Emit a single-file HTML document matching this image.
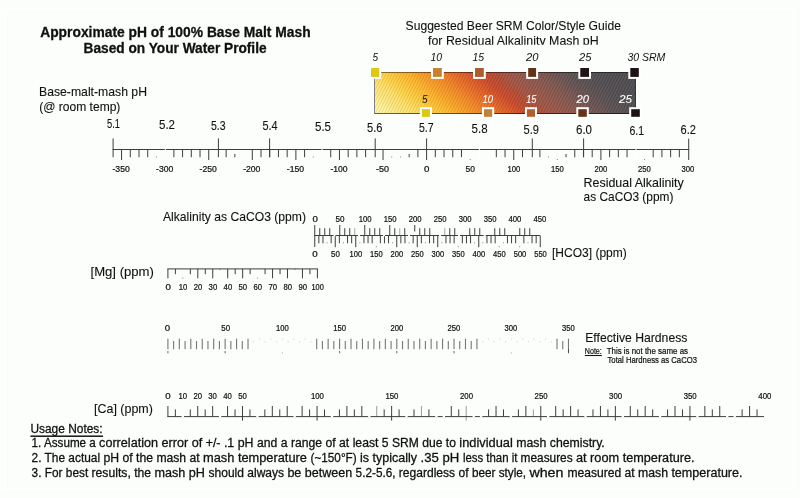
<!DOCTYPE html>
<html><head><meta charset="utf-8"><title>Approximate pH of 100% Base Malt Mash</title>
<style>
html,body{margin:0;padding:0;background:#fcfefb;}
svg{display:block;font-family:"Liberation Sans",sans-serif;}
svg{fill:#101010;}
text{stroke:#101010;stroke-width:0.1px;}
text.n{stroke-width:0.28px;}
text.i{stroke-width:0;}
text.s{stroke-width:0.22px;}
text.w{stroke:#fff;}
</style></head>
<body>
<svg width="800" height="498" viewBox="0 0 800 498">
<defs>
<linearGradient id="g1" gradientUnits="userSpaceOnUse" x1="374" y1="114" x2="503.05" y2="-39.7"><stop offset="0.000" stop-color="#fff6a8"/><stop offset="0.050" stop-color="#fff29a"/><stop offset="0.090" stop-color="#ffe880"/><stop offset="0.140" stop-color="#ffe068"/><stop offset="0.164" stop-color="#ffd850"/><stop offset="0.199" stop-color="#ffcc40"/><stop offset="0.229" stop-color="#ffc034"/><stop offset="0.259" stop-color="#ffb42c"/><stop offset="0.289" stop-color="#fca426"/><stop offset="0.349" stop-color="#f48a26"/><stop offset="0.404" stop-color="#ea6e26"/><stop offset="0.458" stop-color="#d85628"/><stop offset="0.488" stop-color="#cc4a2a"/><stop offset="0.528" stop-color="#b84c32"/><stop offset="0.556" stop-color="#aa523e"/><stop offset="0.568" stop-color="#a45646"/><stop offset="0.618" stop-color="#96584c"/><stop offset="0.663" stop-color="#885850"/><stop offset="0.698" stop-color="#7c5852"/><stop offset="0.737" stop-color="#6c5454"/><stop offset="0.777" stop-color="#605253"/><stop offset="0.822" stop-color="#575052"/><stop offset="0.897" stop-color="#504e52"/><stop offset="1.000" stop-color="#4a4c52"/></linearGradient>
<pattern id="h1" patternUnits="userSpaceOnUse" width="3" height="6"><path d="M-1.5,9 L3,0 M-1.5,3 L1.5,-3 M1.5,9 L4.5,3" stroke="#000" stroke-opacity="0.10" stroke-width="1" fill="none"/><path d="M0,9 L4.5,0 M-3,9 L1.5,0" stroke="#fff" stroke-opacity="0.07" stroke-width="1" fill="none"/></pattern>
<clipPath id="c1"><rect x="400" y="30" width="260" height="14.7"/></clipPath>
</defs>
<rect width="800" height="498" fill="#fcfefb"/>
<rect x="5" y="9" width="789" height="480" fill="none" stroke="#fff" stroke-width="2"/>
<text x="40.2" y="36.6" font-size="13.8" textLength="270.4" lengthAdjust="spacingAndGlyphs" font-weight="bold" class="n">Approximate pH of 100% Base Malt Mash</text>
<text x="83.6" y="52.6" font-size="13.8" textLength="183.0" lengthAdjust="spacingAndGlyphs" font-weight="bold" class="n">Based on Your Water Profile</text>
<text x="405.6" y="30.0" font-size="12.9" textLength="215.3" lengthAdjust="spacingAndGlyphs">Suggested Beer SRM Color/Style Guide</text>
<g clip-path="url(#c1)">
<text x="428.0" y="45.0" font-size="12.9" textLength="170.6" lengthAdjust="spacingAndGlyphs">for Residual Alkalinity Mash pH</text>
</g>
<text x="39.0" y="95.8" font-size="12.4" textLength="108.0" lengthAdjust="spacingAndGlyphs">Base-malt-mash pH</text>
<text x="39.2" y="110.6" font-size="12.4" textLength="81.2" lengthAdjust="spacingAndGlyphs">(@ room temp)</text>
<rect x="374" y="72" width="262" height="42" fill="url(#g1)"/>
<rect x="375" y="73" width="260" height="40" fill="url(#h1)"/>
<rect x="374" y="72" width="262" height="1" fill="#000" opacity="0.48"/>
<rect x="374" y="113" width="262" height="1" fill="#000" opacity="0.6"/>
<rect x="374" y="72" width="1" height="42" fill="#808080"/>
<rect x="635" y="72" width="1" height="42" fill="#2c2424" opacity="0.6"/>
<rect x="369.0" y="66.0" width="12.2" height="12.9" fill="#fff"/>
<rect x="371.0" y="68.0" width="8.2" height="8.9" fill="#ddc914"/>
<rect x="431.0" y="66.0" width="12.8" height="12.9" fill="#fff"/>
<rect x="433.0" y="68.0" width="8.8" height="8.9" fill="#c4832f"/>
<rect x="473.0" y="66.0" width="12.8" height="12.9" fill="#fff"/>
<rect x="475.0" y="68.0" width="8.8" height="8.9" fill="#ae5b30"/>
<rect x="526.2" y="66.0" width="11.9" height="12.9" fill="#fff"/>
<rect x="528.2" y="68.0" width="7.9" height="8.9" fill="#643217"/>
<rect x="578.3" y="66.0" width="12.7" height="12.9" fill="#fff"/>
<rect x="580.3" y="68.0" width="8.7" height="8.9" fill="#1f1416"/>
<rect x="628.3" y="66.0" width="12.5" height="12.9" fill="#fff"/>
<rect x="630.3" y="68.0" width="8.5" height="8.9" fill="#1c1214"/>
<rect x="419.9" y="107.2" width="12.1" height="11.6" fill="#fff"/>
<rect x="421.9" y="109.2" width="8.1" height="7.6" fill="#d9c90f"/>
<rect x="482.0" y="107.2" width="12.2" height="11.6" fill="#fff"/>
<rect x="484.0" y="109.2" width="8.2" height="7.6" fill="#c0813a"/>
<rect x="525.0" y="107.2" width="12.0" height="11.6" fill="#fff"/>
<rect x="527.0" y="109.2" width="8.0" height="7.6" fill="#b0602f"/>
<rect x="576.3" y="107.2" width="12.5" height="11.6" fill="#fff"/>
<rect x="578.3" y="109.2" width="8.5" height="7.6" fill="#673218"/>
<rect x="629.2" y="107.2" width="12.6" height="11.6" fill="#fff"/>
<rect x="631.2" y="109.2" width="8.6" height="7.6" fill="#1c1215"/>
<text x="372.4" y="61.0" font-size="11.6" textLength="5.6" lengthAdjust="spacingAndGlyphs" font-style="italic" class="i">5</text>
<text x="430.4" y="61.0" font-size="11.6" textLength="11.6" lengthAdjust="spacingAndGlyphs" font-style="italic" class="i">10</text>
<text x="472.4" y="61.0" font-size="11.6" textLength="11.6" lengthAdjust="spacingAndGlyphs" font-style="italic" class="i">15</text>
<text x="526.0" y="61.0" font-size="11.6" textLength="12.4" lengthAdjust="spacingAndGlyphs" font-style="italic" class="i">20</text>
<text x="579.0" y="61.0" font-size="11.6" textLength="12.4" lengthAdjust="spacingAndGlyphs" font-style="italic" class="i">25</text>
<text x="627.4" y="61.0" font-size="11.6" textLength="38.0" lengthAdjust="spacingAndGlyphs" font-style="italic" class="i">30 SRM</text>
<text x="421.9" y="102.7" font-size="11.6" textLength="5.6" lengthAdjust="spacingAndGlyphs" font-style="italic" class="i">5</text>
<text x="482.5" y="102.7" font-size="11.6" textLength="10.5" lengthAdjust="spacingAndGlyphs" font-style="italic" fill="#fff" class="w">10</text>
<text x="526.2" y="102.7" font-size="11.6" textLength="10.1" lengthAdjust="spacingAndGlyphs" font-style="italic" fill="#fff" class="w">15</text>
<text x="576.5" y="102.7" font-size="11.6" textLength="12.5" lengthAdjust="spacingAndGlyphs" font-style="italic" fill="#fff" class="w">20</text>
<text x="619.0" y="102.7" font-size="11.6" textLength="13.0" lengthAdjust="spacingAndGlyphs" font-style="italic" fill="#fff" class="w">25</text>
<g fill="#3e3e3e">
<rect x="112.6" y="149.00" width="576.6" height="1"/>
<rect x="112.60" y="138.4" width="1" height="18.8"/>
<rect x="217.90" y="138.4" width="1" height="18.8"/>
<rect x="269.10" y="138.4" width="1" height="18.8"/>
<rect x="374.70" y="138.4" width="1" height="18.8"/>
<rect x="426.10" y="138.4" width="1" height="21.6"/>
<rect x="531.80" y="138.4" width="1" height="18.8"/>
<rect x="583.10" y="138.4" width="1" height="18.8"/>
<rect x="688.20" y="138.6" width="1" height="21.4"/>
<rect x="121.07" y="149.5" width="1" height="10.5"/>
<rect x="129.79" y="149.5" width="1" height="7.7"/>
<rect x="138.50" y="149.5" width="1" height="7.7"/>
<rect x="147.22" y="149.5" width="1" height="7.7"/>
<rect x="173.37" y="149.5" width="1" height="7.7"/>
<rect x="182.08" y="149.5" width="1" height="7.7"/>
<rect x="190.80" y="149.5" width="1" height="7.7"/>
<rect x="199.51" y="149.5" width="1" height="7.7"/>
<rect x="208.23" y="149.5" width="1" height="10.5"/>
<rect x="225.66" y="149.5" width="1" height="7.7"/>
<rect x="234.37" y="154.0" width="1" height="3.2"/>
<rect x="251.80" y="149.5" width="1" height="10.5"/>
<rect x="260.51" y="149.5" width="1" height="7.7"/>
<rect x="269.23" y="149.5" width="1" height="7.7"/>
<rect x="277.95" y="149.5" width="1" height="7.7"/>
<rect x="286.66" y="149.5" width="1" height="7.7"/>
<rect x="295.38" y="149.5" width="1" height="10.5"/>
<rect x="304.09" y="149.5" width="1" height="7.7"/>
<rect x="330.24" y="149.5" width="1" height="7.7"/>
<rect x="338.95" y="149.5" width="1" height="10.5"/>
<rect x="347.67" y="149.5" width="1" height="7.7"/>
<rect x="356.38" y="149.5" width="1" height="7.7"/>
<rect x="365.10" y="149.5" width="1" height="7.7"/>
<rect x="382.53" y="149.5" width="1" height="10.5"/>
<rect x="408.67" y="154.0" width="1" height="3.2"/>
<rect x="417.39" y="149.5" width="1" height="7.7"/>
<rect x="434.81" y="149.5" width="1" height="7.7"/>
<rect x="443.53" y="149.5" width="1" height="7.7"/>
<rect x="452.25" y="149.5" width="1" height="7.7"/>
<rect x="460.96" y="149.5" width="1" height="7.7"/>
<rect x="495.82" y="149.5" width="1" height="7.7"/>
<rect x="504.54" y="149.5" width="1" height="7.7"/>
<rect x="513.25" y="149.5" width="1" height="10.5"/>
<rect x="521.97" y="149.5" width="1" height="7.7"/>
<rect x="539.39" y="149.5" width="1" height="7.7"/>
<rect x="565.54" y="154.0" width="1" height="3.2"/>
<rect x="574.25" y="149.5" width="1" height="7.7"/>
<rect x="582.97" y="149.5" width="1" height="7.7"/>
<rect x="591.69" y="149.5" width="1" height="7.7"/>
<rect x="600.40" y="149.5" width="1" height="10.5"/>
<rect x="609.12" y="149.5" width="1" height="7.7"/>
<rect x="617.83" y="149.5" width="1" height="7.7"/>
<rect x="626.55" y="149.5" width="1" height="7.7"/>
<rect x="652.69" y="149.5" width="1" height="7.7"/>
<rect x="661.40" y="149.5" width="1" height="7.7"/>
<rect x="670.12" y="149.5" width="1" height="7.7"/>
<rect x="678.84" y="149.5" width="1" height="7.7"/>
<rect x="155.9" y="156.5" width="1" height="1" opacity="0.6"/>
<rect x="312.8" y="156.5" width="1" height="1" opacity="0.6"/>
<rect x="391.2" y="156.5" width="1" height="1" opacity="0.6"/>
<rect x="400.0" y="156.5" width="1" height="1" opacity="0.6"/>
<rect x="469.7" y="159.0" width="1" height="1" opacity="0.6"/>
<rect x="548.1" y="156.5" width="1" height="1" opacity="0.6"/>
<rect x="556.8" y="159.0" width="1" height="1" opacity="0.6"/>
<rect x="644.0" y="159.0" width="1" height="1" opacity="0.6"/>
</g>
<rect x="164.80" y="138.4" width="1" height="21.6" fill="#fff"/>
<rect x="321.50" y="138.4" width="1" height="21.6" fill="#fff"/>
<rect x="478.90" y="138.4" width="1" height="21.6" fill="#fff"/>
<rect x="635.50" y="138.4" width="1" height="21.6" fill="#fff"/>
<text x="107.0" y="127.6" font-size="12.8" textLength="13.0" lengthAdjust="spacingAndGlyphs">5.1</text>
<text x="159.0" y="128.6" font-size="12.8" textLength="16.0" lengthAdjust="spacingAndGlyphs">5.2</text>
<text x="211.0" y="129.6" font-size="12.8" textLength="14.6" lengthAdjust="spacingAndGlyphs">5.3</text>
<text x="262.4" y="130.4" font-size="12.8" textLength="15.2" lengthAdjust="spacingAndGlyphs">5.4</text>
<text x="315.0" y="130.8" font-size="12.8" textLength="16.0" lengthAdjust="spacingAndGlyphs">5.5</text>
<text x="367.0" y="131.6" font-size="12.8" textLength="15.4" lengthAdjust="spacingAndGlyphs">5.6</text>
<text x="419.0" y="132.0" font-size="12.8" textLength="14.6" lengthAdjust="spacingAndGlyphs">5.7</text>
<text x="471.6" y="132.7" font-size="12.8" textLength="16.0" lengthAdjust="spacingAndGlyphs">5.8</text>
<text x="523.6" y="133.6" font-size="12.8" textLength="15.4" lengthAdjust="spacingAndGlyphs">5.9</text>
<text x="576.0" y="134.0" font-size="12.8" textLength="16.0" lengthAdjust="spacingAndGlyphs">6.0</text>
<text x="629.4" y="135.0" font-size="12.8" textLength="14.6" lengthAdjust="spacingAndGlyphs">6.1</text>
<text x="680.6" y="134.0" font-size="12.8" textLength="15.4" lengthAdjust="spacingAndGlyphs">6.2</text>
<text x="112.5" y="172.2" font-size="8.6" textLength="17.2" lengthAdjust="spacingAndGlyphs" class="s">-350</text>
<text x="156.1" y="172.2" font-size="8.6" textLength="17.2" lengthAdjust="spacingAndGlyphs" class="s">-300</text>
<text x="199.6" y="172.2" font-size="8.6" textLength="17.2" lengthAdjust="spacingAndGlyphs" class="s">-250</text>
<text x="243.2" y="172.2" font-size="8.6" textLength="17.2" lengthAdjust="spacingAndGlyphs" class="s">-200</text>
<text x="286.8" y="172.2" font-size="8.6" textLength="17.2" lengthAdjust="spacingAndGlyphs" class="s">-150</text>
<text x="330.4" y="172.2" font-size="8.6" textLength="17.2" lengthAdjust="spacingAndGlyphs" class="s">-100</text>
<text x="376.0" y="172.2" font-size="8.6" textLength="13.0" lengthAdjust="spacingAndGlyphs" class="s">-50</text>
<text x="423.9" y="172.2" font-size="8.6" textLength="5.4" lengthAdjust="spacingAndGlyphs" class="s">0</text>
<text x="465.5" y="172.2" font-size="8.6" textLength="9.4" lengthAdjust="spacingAndGlyphs" class="s">50</text>
<text x="507.4" y="172.2" font-size="8.6" textLength="12.8" lengthAdjust="spacingAndGlyphs" class="s">100</text>
<text x="550.9" y="172.2" font-size="8.6" textLength="12.8" lengthAdjust="spacingAndGlyphs" class="s">150</text>
<text x="594.5" y="172.2" font-size="8.6" textLength="12.8" lengthAdjust="spacingAndGlyphs" class="s">200</text>
<text x="638.1" y="172.2" font-size="8.6" textLength="12.8" lengthAdjust="spacingAndGlyphs" class="s">250</text>
<text x="681.6" y="172.2" font-size="8.6" textLength="12.8" lengthAdjust="spacingAndGlyphs" class="s">300</text>
<text x="583.5" y="186.7" font-size="12.4" textLength="100.3" lengthAdjust="spacingAndGlyphs">Residual Alkalinity</text>
<text x="583.6" y="201.4" font-size="12.4" textLength="89.8" lengthAdjust="spacingAndGlyphs">as CaCO3 (ppm)</text>
<text x="163.0" y="221.3" font-size="12.6" textLength="143.0" lengthAdjust="spacingAndGlyphs">Alkalinity as CaCO3 (ppm)</text>
<g fill="#3e3e3e">
<rect x="314.2" y="235.00" width="225.8" height="1"/>
<rect x="314.25" y="225.0" width="1" height="22.0"/>
<rect x="319.25" y="228.2" width="1" height="7.3"/>
<rect x="324.25" y="228.2" width="1" height="7.3"/>
<rect x="329.25" y="228.2" width="1" height="7.3"/>
<rect x="339.25" y="225.0" width="1" height="10.5"/>
<rect x="344.25" y="228.2" width="1" height="7.3"/>
<rect x="349.25" y="228.2" width="1" height="7.3"/>
<rect x="354.25" y="228.2" width="1" height="7.3" opacity="0.45"/>
<rect x="364.25" y="225.0" width="1" height="10.5"/>
<rect x="369.25" y="228.2" width="1" height="7.3"/>
<rect x="374.25" y="228.2" width="1" height="7.3"/>
<rect x="379.25" y="228.2" width="1" height="7.3"/>
<rect x="389.25" y="225.0" width="1" height="10.5"/>
<rect x="394.25" y="228.2" width="1" height="7.3"/>
<rect x="399.25" y="228.2" width="1" height="7.3" opacity="0.45"/>
<rect x="404.25" y="228.2" width="1" height="7.3"/>
<rect x="414.25" y="225.0" width="1" height="6.5"/>
<rect x="419.25" y="228.2" width="1" height="7.3"/>
<rect x="424.25" y="228.2" width="1" height="7.3"/>
<rect x="429.25" y="228.2" width="1" height="7.3"/>
<rect x="444.25" y="228.2" width="1" height="7.3" opacity="0.45"/>
<rect x="449.25" y="228.2" width="1" height="7.3"/>
<rect x="454.25" y="228.2" width="1" height="7.3"/>
<rect x="469.25" y="228.2" width="1" height="7.3"/>
<rect x="474.25" y="228.2" width="1" height="7.3"/>
<rect x="479.25" y="228.2" width="1" height="7.3"/>
<rect x="494.25" y="228.2" width="1" height="7.3"/>
<rect x="499.25" y="228.2" width="1" height="7.3"/>
<rect x="504.25" y="228.2" width="1" height="7.3"/>
<rect x="519.25" y="228.2" width="1" height="7.3"/>
<rect x="524.25" y="228.2" width="1" height="7.3"/>
<rect x="529.25" y="228.2" width="1" height="7.3"/>
<rect x="318.35" y="235.5" width="1" height="7.8"/>
<rect x="322.45" y="235.5" width="1" height="7.8"/>
<rect x="330.65" y="235.5" width="1" height="7.8"/>
<rect x="334.75" y="235.5" width="1" height="11.7"/>
<rect x="338.85" y="235.5" width="1" height="7.8"/>
<rect x="347.05" y="235.5" width="1" height="7.8"/>
<rect x="351.15" y="235.5" width="1" height="7.8"/>
<rect x="355.25" y="235.5" width="1" height="11.7"/>
<rect x="363.45" y="235.5" width="1" height="7.8"/>
<rect x="367.55" y="235.5" width="1" height="7.8"/>
<rect x="371.65" y="235.5" width="1" height="7.8"/>
<rect x="379.85" y="235.5" width="1" height="7.8"/>
<rect x="383.95" y="235.5" width="1" height="7.8"/>
<rect x="388.05" y="235.5" width="1" height="7.8"/>
<rect x="396.25" y="235.5" width="1" height="11.7"/>
<rect x="400.35" y="235.5" width="1" height="7.8"/>
<rect x="404.45" y="235.5" width="1" height="7.8"/>
<rect x="412.65" y="235.5" width="1" height="7.8"/>
<rect x="416.75" y="235.5" width="1" height="11.7"/>
<rect x="420.85" y="235.5" width="1" height="7.8"/>
<rect x="429.05" y="235.5" width="1" height="7.8"/>
<rect x="433.15" y="235.5" width="1" height="7.8"/>
<rect x="437.25" y="235.5" width="1" height="11.7"/>
<rect x="445.45" y="235.5" width="1" height="7.8"/>
<rect x="449.55" y="235.5" width="1" height="7.8"/>
<rect x="453.65" y="235.5" width="1" height="7.8"/>
<rect x="461.85" y="235.5" width="1" height="7.8"/>
<rect x="465.95" y="235.5" width="1" height="7.8"/>
<rect x="470.05" y="235.5" width="1" height="7.8"/>
<rect x="478.25" y="235.5" width="1" height="11.7"/>
<rect x="486.45" y="235.5" width="1" height="7.8"/>
<rect x="490.55" y="235.5" width="1" height="7.8"/>
<rect x="494.65" y="235.5" width="1" height="7.8"/>
<rect x="506.95" y="235.5" width="1" height="7.8"/>
<rect x="511.05" y="235.5" width="1" height="7.8"/>
<rect x="515.15" y="235.5" width="1" height="7.8"/>
<rect x="523.35" y="235.5" width="1" height="7.8"/>
<rect x="531.55" y="235.5" width="1" height="7.8"/>
<rect x="535.65" y="235.5" width="1" height="7.8"/>
<rect x="539.75" y="235.5" width="1" height="11.7"/>
<rect x="498.8" y="246.2" width="1" height="1" opacity="0.6"/>
<rect x="342.9" y="242.3" width="1" height="1" opacity="0.6"/>
<rect x="474.1" y="242.3" width="1" height="1" opacity="0.6"/>
<rect x="408.6" y="242.3" width="1" height="1" opacity="0.6"/>
<rect x="527.5" y="242.3" width="1" height="1" opacity="0.6"/>
<rect x="502.9" y="242.3" width="1" height="1" opacity="0.6"/>
<rect x="359.4" y="242.3" width="1" height="1" opacity="0.6"/>
<rect x="424.9" y="242.3" width="1" height="1" opacity="0.6"/>
<rect x="519.2" y="246.2" width="1" height="1" opacity="0.6"/>
<rect x="375.8" y="246.2" width="1" height="1" opacity="0.6"/>
<rect x="326.6" y="242.3" width="1" height="1" opacity="0.6"/>
<rect x="441.4" y="242.3" width="1" height="1" opacity="0.6"/>
<rect x="482.4" y="242.3" width="1" height="1" opacity="0.6"/>
<rect x="392.1" y="242.3" width="1" height="1" opacity="0.6"/>
<rect x="457.8" y="246.2" width="1" height="1" opacity="0.6"/>
</g>
<rect x="333.5" y="234.80" width="2.0" height="1.4" fill="#fcfefb"/>
<rect x="358.0" y="234.80" width="2.0" height="1.4" fill="#fcfefb"/>
<rect x="383.0" y="234.80" width="2.0" height="1.4" fill="#fcfefb"/>
<rect x="408.0" y="234.80" width="2.0" height="1.4" fill="#fcfefb"/>
<rect x="439.0" y="234.80" width="2.0" height="1.4" fill="#fcfefb"/>
<rect x="458.0" y="234.80" width="2.0" height="1.4" fill="#fcfefb"/>
<rect x="483.7" y="234.80" width="2.0" height="1.4" fill="#fcfefb"/>
<text x="312.4" y="221.9" font-size="8.6" textLength="5.4" lengthAdjust="spacingAndGlyphs" class="s">0</text>
<text x="335.6" y="221.9" font-size="8.6" textLength="9.0" lengthAdjust="spacingAndGlyphs" class="s">50</text>
<text x="358.7" y="221.9" font-size="8.6" textLength="12.8" lengthAdjust="spacingAndGlyphs" class="s">100</text>
<text x="383.7" y="221.9" font-size="8.6" textLength="12.8" lengthAdjust="spacingAndGlyphs" class="s">150</text>
<text x="408.7" y="221.9" font-size="8.6" textLength="12.8" lengthAdjust="spacingAndGlyphs" class="s">200</text>
<text x="433.7" y="221.9" font-size="8.6" textLength="12.8" lengthAdjust="spacingAndGlyphs" class="s">250</text>
<text x="458.7" y="221.9" font-size="8.6" textLength="12.8" lengthAdjust="spacingAndGlyphs" class="s">300</text>
<text x="483.7" y="221.9" font-size="8.6" textLength="12.8" lengthAdjust="spacingAndGlyphs" class="s">350</text>
<text x="508.6" y="221.9" font-size="8.6" textLength="12.8" lengthAdjust="spacingAndGlyphs" class="s">400</text>
<text x="533.6" y="221.9" font-size="8.6" textLength="12.8" lengthAdjust="spacingAndGlyphs" class="s">450</text>
<text x="312.2" y="256.9" font-size="8.6" textLength="5.4" lengthAdjust="spacingAndGlyphs" class="s">0</text>
<text x="331.1" y="256.9" font-size="8.6" textLength="8.8" lengthAdjust="spacingAndGlyphs" class="s">50</text>
<text x="349.6" y="256.9" font-size="8.6" textLength="12.6" lengthAdjust="spacingAndGlyphs" class="s">100</text>
<text x="370.1" y="256.9" font-size="8.6" textLength="12.6" lengthAdjust="spacingAndGlyphs" class="s">150</text>
<text x="390.6" y="256.9" font-size="8.6" textLength="12.6" lengthAdjust="spacingAndGlyphs" class="s">200</text>
<text x="411.1" y="256.9" font-size="8.6" textLength="12.6" lengthAdjust="spacingAndGlyphs" class="s">250</text>
<text x="431.6" y="256.9" font-size="8.6" textLength="12.6" lengthAdjust="spacingAndGlyphs" class="s">300</text>
<text x="452.1" y="256.9" font-size="8.6" textLength="12.6" lengthAdjust="spacingAndGlyphs" class="s">350</text>
<text x="472.6" y="256.9" font-size="8.6" textLength="12.6" lengthAdjust="spacingAndGlyphs" class="s">400</text>
<text x="493.1" y="256.9" font-size="8.6" textLength="12.6" lengthAdjust="spacingAndGlyphs" class="s">450</text>
<text x="513.7" y="256.9" font-size="8.6" textLength="12.6" lengthAdjust="spacingAndGlyphs" class="s">500</text>
<text x="534.2" y="256.9" font-size="8.6" textLength="12.6" lengthAdjust="spacingAndGlyphs" class="s">550</text>
<text x="552.0" y="257.4" font-size="12.6" textLength="74.8" lengthAdjust="spacingAndGlyphs">[HCO3] (ppm)</text>
<text x="90.5" y="275.8" font-size="12.4" textLength="63.4" lengthAdjust="spacingAndGlyphs">[Mg] (ppm)</text>
<g fill="#3e3e3e">
<rect x="167.4" y="268.40" width="150.5" height="1"/>
<rect x="167.40" y="268.9" width="1" height="9.4"/>
<rect x="174.88" y="268.9" width="1" height="5.3"/>
<rect x="189.83" y="268.9" width="1" height="5.3"/>
<rect x="197.30" y="268.9" width="1" height="9.4"/>
<rect x="204.78" y="268.9" width="1" height="5.3"/>
<rect x="212.25" y="268.9" width="1" height="9.4"/>
<rect x="227.20" y="268.9" width="1" height="9.4"/>
<rect x="234.68" y="268.9" width="1" height="5.3"/>
<rect x="242.15" y="268.9" width="1" height="9.4"/>
<rect x="249.62" y="268.9" width="1" height="5.3"/>
<rect x="264.58" y="268.9" width="1" height="5.3"/>
<rect x="272.05" y="268.9" width="1" height="9.4"/>
<rect x="279.53" y="268.9" width="1" height="5.3"/>
<rect x="287.00" y="268.9" width="1" height="9.4"/>
<rect x="301.95" y="268.9" width="1" height="9.4"/>
<rect x="309.43" y="268.9" width="1" height="5.3"/>
<rect x="316.90" y="268.9" width="1" height="9.4"/>
<rect x="182.3" y="277.5" width="1" height="1" opacity="0.6"/>
<rect x="219.7" y="269.0" width="1" height="1" opacity="0.6"/>
<rect x="257.1" y="277.5" width="1" height="1" opacity="0.6"/>
<rect x="294.5" y="269.0" width="1" height="1" opacity="0.6"/>
</g>
<text x="165.4" y="289.8" font-size="8.6" textLength="5.4" lengthAdjust="spacingAndGlyphs" class="s">0</text>
<text x="178.7" y="289.8" font-size="8.6" textLength="8.6" lengthAdjust="spacingAndGlyphs" class="s">10</text>
<text x="193.7" y="289.8" font-size="8.6" textLength="8.6" lengthAdjust="spacingAndGlyphs" class="s">20</text>
<text x="208.6" y="289.8" font-size="8.6" textLength="8.6" lengthAdjust="spacingAndGlyphs" class="s">30</text>
<text x="223.6" y="289.8" font-size="8.6" textLength="8.6" lengthAdjust="spacingAndGlyphs" class="s">40</text>
<text x="238.5" y="289.8" font-size="8.6" textLength="8.6" lengthAdjust="spacingAndGlyphs" class="s">50</text>
<text x="253.5" y="289.8" font-size="8.6" textLength="8.6" lengthAdjust="spacingAndGlyphs" class="s">60</text>
<text x="268.4" y="289.8" font-size="8.6" textLength="8.6" lengthAdjust="spacingAndGlyphs" class="s">70</text>
<text x="283.4" y="289.8" font-size="8.6" textLength="8.6" lengthAdjust="spacingAndGlyphs" class="s">80</text>
<text x="298.4" y="289.8" font-size="8.6" textLength="8.6" lengthAdjust="spacingAndGlyphs" class="s">90</text>
<text x="311.4" y="289.8" font-size="8.6" textLength="12.4" lengthAdjust="spacingAndGlyphs" class="s">100</text>
<g fill="#4a4a4a">
<rect x="167.35" y="338.7" width="1.1" height="10.5" opacity="0.75"/>
<rect x="167.35" y="351.0" width="1.1" height="2.3" opacity="0.75"/>
<rect x="173.07" y="341.0" width="1.1" height="8.2" opacity="0.75"/>
<rect x="178.79" y="338.7" width="1.1" height="10.5" opacity="0.75"/>
<rect x="184.52" y="341.0" width="1.1" height="8.2" opacity="0.75"/>
<rect x="190.24" y="338.7" width="1.1" height="10.5" opacity="0.75"/>
<rect x="195.96" y="341.0" width="1.1" height="8.2" opacity="0.75"/>
<rect x="201.69" y="338.7" width="1.1" height="10.5" opacity="0.75"/>
<rect x="207.41" y="341.0" width="1.1" height="8.2" opacity="0.75"/>
<rect x="213.13" y="338.7" width="1.1" height="10.5" opacity="0.75"/>
<rect x="218.85" y="341.0" width="1.1" height="8.2" opacity="0.75"/>
<rect x="224.57" y="338.7" width="1.1" height="10.5" opacity="0.75"/>
<rect x="224.57" y="351.0" width="1.1" height="2.3" opacity="0.75"/>
<rect x="230.30" y="341.0" width="1.1" height="8.2" opacity="0.75"/>
<rect x="236.02" y="338.7" width="1.1" height="10.5" opacity="0.75"/>
<rect x="241.74" y="341.0" width="1.1" height="8.2" opacity="0.75"/>
<rect x="247.47" y="338.7" width="1.1" height="10.5" opacity="0.75"/>
<rect x="253.2" y="341.2" width="1" height="1" opacity="0.28"/>
<rect x="259.0" y="338.6" width="1" height="1" opacity="0.28"/>
<rect x="264.7" y="341.2" width="1" height="1" opacity="0.28"/>
<rect x="270.4" y="338.6" width="1" height="1" opacity="0.28"/>
<rect x="276.1" y="341.2" width="1" height="1" opacity="0.28"/>
<rect x="281.9" y="338.6" width="1" height="1" opacity="0.28"/>
<rect x="287.6" y="341.2" width="1" height="1" opacity="0.28"/>
<rect x="293.3" y="338.6" width="1" height="1" opacity="0.28"/>
<rect x="299.0" y="341.2" width="1" height="1" opacity="0.28"/>
<rect x="304.7" y="338.6" width="1" height="1" opacity="0.28"/>
<rect x="310.5" y="341.2" width="1" height="1" opacity="0.28"/>
<rect x="316.13" y="338.7" width="1.1" height="10.5" opacity="0.75"/>
<rect x="321.86" y="341.0" width="1.1" height="8.2" opacity="0.75"/>
<rect x="327.58" y="338.7" width="1.1" height="10.5" opacity="0.75"/>
<rect x="333.30" y="341.0" width="1.1" height="8.2" opacity="0.75"/>
<rect x="339.03" y="338.7" width="1.1" height="10.5" opacity="0.75"/>
<rect x="339.03" y="351.0" width="1.1" height="2.3" opacity="0.75"/>
<rect x="344.75" y="341.0" width="1.1" height="8.2" opacity="0.75"/>
<rect x="350.47" y="338.7" width="1.1" height="10.5" opacity="0.75"/>
<rect x="356.19" y="341.0" width="1.1" height="8.2" opacity="0.75"/>
<rect x="361.92" y="338.7" width="1.1" height="10.5" opacity="0.75"/>
<rect x="367.64" y="341.0" width="1.1" height="8.2" opacity="0.75"/>
<rect x="373.36" y="338.7" width="1.1" height="10.5" opacity="0.75"/>
<rect x="379.08" y="341.0" width="1.1" height="8.2" opacity="0.75"/>
<rect x="384.81" y="338.7" width="1.1" height="10.5" opacity="0.75"/>
<rect x="390.53" y="341.0" width="1.1" height="8.2" opacity="0.75"/>
<rect x="396.25" y="338.7" width="1.1" height="10.5" opacity="0.75"/>
<rect x="396.25" y="351.0" width="1.1" height="2.3" opacity="0.75"/>
<rect x="401.97" y="341.0" width="1.1" height="8.2" opacity="0.75"/>
<rect x="407.69" y="338.7" width="1.1" height="10.5" opacity="0.75"/>
<rect x="413.42" y="341.0" width="1.1" height="8.2" opacity="0.75"/>
<rect x="419.14" y="338.7" width="1.1" height="10.5" opacity="0.75"/>
<rect x="424.86" y="341.0" width="1.1" height="8.2" opacity="0.75"/>
<rect x="430.58" y="338.7" width="1.1" height="10.5" opacity="0.75"/>
<rect x="436.31" y="341.0" width="1.1" height="8.2" opacity="0.75"/>
<rect x="442.03" y="338.7" width="1.1" height="10.5" opacity="0.75"/>
<rect x="447.75" y="341.0" width="1.1" height="8.2" opacity="0.75"/>
<rect x="453.47" y="338.7" width="1.1" height="10.5" opacity="0.75"/>
<rect x="453.47" y="351.0" width="1.1" height="2.3" opacity="0.75"/>
<rect x="459.20" y="341.0" width="1.1" height="8.2" opacity="0.75"/>
<rect x="464.92" y="338.7" width="1.1" height="10.5" opacity="0.75"/>
<rect x="470.64" y="341.0" width="1.1" height="8.2" opacity="0.75"/>
<rect x="476.37" y="338.7" width="1.1" height="10.5" opacity="0.75"/>
<rect x="482.1" y="341.2" width="1" height="1" opacity="0.28"/>
<rect x="487.9" y="338.6" width="1" height="1" opacity="0.28"/>
<rect x="493.6" y="341.2" width="1" height="1" opacity="0.28"/>
<rect x="499.3" y="338.6" width="1" height="1" opacity="0.28"/>
<rect x="505.0" y="341.2" width="1" height="1" opacity="0.28"/>
<rect x="510.8" y="338.6" width="1" height="1" opacity="0.28"/>
<rect x="516.5" y="341.2" width="1" height="1" opacity="0.28"/>
<rect x="522.2" y="338.6" width="1" height="1" opacity="0.28"/>
<rect x="527.9" y="341.2" width="1" height="1" opacity="0.28"/>
<rect x="533.6" y="338.6" width="1" height="1" opacity="0.28"/>
<rect x="539.4" y="341.2" width="1" height="1" opacity="0.28"/>
<rect x="545.1" y="338.6" width="1" height="1" opacity="0.28"/>
<rect x="550.8" y="341.2" width="1" height="1" opacity="0.28"/>
<rect x="556.48" y="338.7" width="1.1" height="10.5" opacity="0.75"/>
<rect x="562.20" y="341.0" width="1.1" height="8.2" opacity="0.75"/>
<rect x="567.93" y="338.7" width="1.1" height="10.5" opacity="0.75"/>
<rect x="567.98" y="349.0" width="1" height="4.2"/>
<rect x="281.9" y="352.5" width="1" height="1" opacity="0.5"/>
<rect x="510.8" y="352.5" width="1" height="1" opacity="0.5"/>
</g>
<text x="164.7" y="331.2" font-size="8.6" textLength="5.4" lengthAdjust="spacingAndGlyphs" class="s">0</text>
<text x="221.3" y="331.2" font-size="8.6" textLength="8.8" lengthAdjust="spacingAndGlyphs" class="s">50</text>
<text x="276.0" y="331.2" font-size="8.6" textLength="12.8" lengthAdjust="spacingAndGlyphs" class="s">100</text>
<text x="333.2" y="331.2" font-size="8.6" textLength="12.8" lengthAdjust="spacingAndGlyphs" class="s">150</text>
<text x="390.4" y="331.2" font-size="8.6" textLength="12.8" lengthAdjust="spacingAndGlyphs" class="s">200</text>
<text x="447.6" y="331.2" font-size="8.6" textLength="12.8" lengthAdjust="spacingAndGlyphs" class="s">250</text>
<text x="504.4" y="331.2" font-size="8.6" textLength="12.8" lengthAdjust="spacingAndGlyphs" class="s">300</text>
<text x="562.1" y="331.2" font-size="8.6" textLength="12.8" lengthAdjust="spacingAndGlyphs" class="s">350</text>
<text x="585.2" y="341.6" font-size="12.4" textLength="102.2" lengthAdjust="spacingAndGlyphs">Effective Hardness</text>
<text x="584.8" y="353.9" font-size="8.9" textLength="17.0" lengthAdjust="spacingAndGlyphs" class="s">Note:</text>
<rect x="584.8" y="354.95" width="17.0" height="1.1" fill="#141414"/>
<text x="606.7" y="353.9" font-size="8.9" textLength="81.3" lengthAdjust="spacingAndGlyphs" class="s">This is not the same as</text>
<text x="607.5" y="363.2" font-size="8.9" textLength="89.5" lengthAdjust="spacingAndGlyphs" class="s">Total Hardness as CaCO3</text>
<text x="94.0" y="412.5" font-size="12.4" textLength="58.9" lengthAdjust="spacingAndGlyphs">[Ca] (ppm)</text>
<g fill="#3e3e3e">
<rect x="167.4" y="416.10" width="596.6" height="1"/>
<rect x="167.40" y="406.0" width="1" height="10.9"/>
<rect x="174.86" y="409.4" width="1" height="7.5"/>
<rect x="189.77" y="409.4" width="1" height="7.5"/>
<rect x="197.23" y="406.0" width="1" height="10.9"/>
<rect x="204.69" y="409.4" width="1" height="7.5"/>
<rect x="212.15" y="406.0" width="1" height="10.9"/>
<rect x="227.06" y="406.0" width="1" height="10.9"/>
<rect x="234.52" y="409.4" width="1" height="7.5"/>
<rect x="241.98" y="406.0" width="1" height="14.6"/>
<rect x="249.43" y="409.4" width="1" height="7.5"/>
<rect x="264.35" y="409.4" width="1" height="7.5"/>
<rect x="271.81" y="406.0" width="1" height="10.9"/>
<rect x="279.26" y="409.4" width="1" height="7.5"/>
<rect x="286.72" y="406.0" width="1" height="10.9"/>
<rect x="301.63" y="406.0" width="1" height="10.9"/>
<rect x="309.09" y="409.4" width="1" height="7.5"/>
<rect x="316.55" y="406.0" width="1" height="14.6"/>
<rect x="324.01" y="409.4" width="1" height="7.5"/>
<rect x="338.92" y="409.4" width="1" height="7.5"/>
<rect x="346.38" y="406.0" width="1" height="10.9"/>
<rect x="353.84" y="409.4" width="1" height="7.5"/>
<rect x="361.30" y="406.0" width="1" height="10.9"/>
<rect x="376.21" y="406.0" width="1" height="10.9" opacity="0.5"/>
<rect x="383.67" y="409.4" width="1" height="7.5"/>
<rect x="391.12" y="406.0" width="1" height="14.6"/>
<rect x="398.58" y="409.4" width="1" height="7.5"/>
<rect x="413.50" y="409.4" width="1" height="7.5"/>
<rect x="420.96" y="406.0" width="1" height="10.9" opacity="0.5"/>
<rect x="428.41" y="409.4" width="1" height="7.5"/>
<rect x="450.78" y="406.0" width="1" height="10.9"/>
<rect x="458.24" y="409.4" width="1" height="7.5"/>
<rect x="465.70" y="406.0" width="1" height="14.6" opacity="0.5"/>
<rect x="488.07" y="409.4" width="1" height="7.5"/>
<rect x="495.53" y="406.0" width="1" height="10.9"/>
<rect x="502.99" y="409.4" width="1" height="7.5"/>
<rect x="517.90" y="409.4" width="1" height="7.5"/>
<rect x="525.36" y="406.0" width="1" height="10.9"/>
<rect x="532.82" y="409.4" width="1" height="7.5" opacity="0.5"/>
<rect x="540.27" y="406.0" width="1" height="14.6"/>
<rect x="555.19" y="406.0" width="1" height="10.9"/>
<rect x="562.65" y="409.4" width="1" height="7.5"/>
<rect x="570.11" y="406.0" width="1" height="10.9"/>
<rect x="577.56" y="409.4" width="1" height="7.5"/>
<rect x="592.48" y="409.4" width="1" height="7.5"/>
<rect x="599.94" y="406.0" width="1" height="10.9"/>
<rect x="607.39" y="409.4" width="1" height="7.5"/>
<rect x="614.85" y="406.0" width="1" height="14.6"/>
<rect x="629.76" y="406.0" width="1" height="10.9"/>
<rect x="637.22" y="409.4" width="1" height="7.5"/>
<rect x="644.68" y="406.0" width="1" height="10.9"/>
<rect x="652.14" y="409.4" width="1" height="7.5"/>
<rect x="667.05" y="409.4" width="1" height="7.5"/>
<rect x="674.51" y="406.0" width="1" height="10.9"/>
<rect x="681.97" y="409.4" width="1" height="7.5"/>
<rect x="689.42" y="406.0" width="1" height="14.6"/>
<rect x="704.34" y="406.0" width="1" height="10.9"/>
<rect x="711.80" y="409.4" width="1" height="7.5"/>
<rect x="719.25" y="406.0" width="1" height="10.9"/>
<rect x="741.63" y="409.4" width="1" height="7.5"/>
<rect x="749.09" y="406.0" width="1" height="10.9"/>
<rect x="756.54" y="409.4" width="1" height="7.5"/>
</g>
<rect x="368.1" y="415.90" width="2.4" height="1.4" fill="#fcfefb"/>
<rect x="181.6" y="415.90" width="2.4" height="1.4" fill="#fcfefb"/>
<rect x="658.9" y="415.90" width="2.4" height="1.4" fill="#fcfefb"/>
<rect x="472.5" y="415.90" width="2.4" height="1.4" fill="#fcfefb"/>
<rect x="479.9" y="415.90" width="2.4" height="1.4" fill="#fcfefb"/>
<rect x="293.5" y="415.90" width="2.4" height="1.4" fill="#fcfefb"/>
<rect x="584.3" y="415.90" width="2.4" height="1.4" fill="#fcfefb"/>
<rect x="405.3" y="415.90" width="2.4" height="1.4" fill="#fcfefb"/>
<rect x="218.9" y="415.90" width="2.4" height="1.4" fill="#fcfefb"/>
<rect x="696.2" y="415.90" width="2.4" height="1.4" fill="#fcfefb"/>
<rect x="509.7" y="415.90" width="2.4" height="1.4" fill="#fcfefb"/>
<rect x="330.8" y="415.90" width="2.4" height="1.4" fill="#fcfefb"/>
<rect x="621.6" y="415.90" width="2.4" height="1.4" fill="#fcfefb"/>
<rect x="435.2" y="415.90" width="2.4" height="1.4" fill="#fcfefb"/>
<rect x="726.0" y="415.90" width="2.4" height="1.4" fill="#fcfefb"/>
<rect x="733.5" y="415.90" width="2.4" height="1.4" fill="#fcfefb"/>
<rect x="442.6" y="415.90" width="2.4" height="1.4" fill="#fcfefb"/>
<rect x="256.2" y="415.90" width="2.4" height="1.4" fill="#fcfefb"/>
<rect x="547.0" y="415.90" width="2.4" height="1.4" fill="#fcfefb"/>
<text x="165.2" y="399.1" font-size="8.6" textLength="5.4" lengthAdjust="spacingAndGlyphs" class="s">0</text>
<text x="178.5" y="399.1" font-size="8.6" textLength="8.6" lengthAdjust="spacingAndGlyphs" class="s">10</text>
<text x="193.4" y="399.1" font-size="8.6" textLength="8.6" lengthAdjust="spacingAndGlyphs" class="s">20</text>
<text x="208.3" y="399.1" font-size="8.6" textLength="8.6" lengthAdjust="spacingAndGlyphs" class="s">30</text>
<text x="223.3" y="399.1" font-size="8.6" textLength="8.6" lengthAdjust="spacingAndGlyphs" class="s">40</text>
<text x="238.2" y="399.1" font-size="8.6" textLength="8.6" lengthAdjust="spacingAndGlyphs" class="s">50</text>
<text x="310.9" y="399.1" font-size="8.6" textLength="13.0" lengthAdjust="spacingAndGlyphs" class="s">100</text>
<text x="385.4" y="399.1" font-size="8.6" textLength="13.0" lengthAdjust="spacingAndGlyphs" class="s">150</text>
<text x="460.0" y="399.1" font-size="8.6" textLength="13.0" lengthAdjust="spacingAndGlyphs" class="s">200</text>
<text x="534.6" y="399.1" font-size="8.6" textLength="13.0" lengthAdjust="spacingAndGlyphs" class="s">250</text>
<text x="609.1" y="399.1" font-size="8.6" textLength="13.0" lengthAdjust="spacingAndGlyphs" class="s">300</text>
<text x="683.7" y="399.1" font-size="8.6" textLength="13.0" lengthAdjust="spacingAndGlyphs" class="s">350</text>
<text x="758.3" y="399.1" font-size="8.6" textLength="13.0" lengthAdjust="spacingAndGlyphs" class="s">400</text>
<text x="30.4" y="433.0" font-size="12.5" textLength="72.2" lengthAdjust="spacingAndGlyphs" class="n">Usage Notes:</text>
<rect x="30.4" y="435.45" width="72.6" height="1.5" fill="#141414"/>
<text class="n" xml:space="preserve" x="31.6" y="447.1" font-size="12.5" textLength="67.5" lengthAdjust="spacingAndGlyphs">1. Assume a </text>
<text class="n" xml:space="preserve" x="99.1" y="447.1" font-size="12.5" textLength="106.6" lengthAdjust="spacingAndGlyphs">correlation error of </text>
<text class="n" xml:space="preserve" x="205.7" y="447.1" font-size="12.5" textLength="51.3" lengthAdjust="spacingAndGlyphs">+/- .1 pH </text>
<text class="n" xml:space="preserve" x="257.0" y="447.1" font-size="12.5" textLength="124.8" lengthAdjust="spacingAndGlyphs">and a range of at least </text>
<text class="n" xml:space="preserve" x="381.8" y="447.1" font-size="12.5" textLength="77.5" lengthAdjust="spacingAndGlyphs">5 SRM due to </text>
<text class="n" xml:space="preserve" x="459.3" y="447.1" font-size="12.5" textLength="57.0" lengthAdjust="spacingAndGlyphs">individual </text>
<text class="n" xml:space="preserve" x="516.3" y="447.1" font-size="12.5" textLength="88.5" lengthAdjust="spacingAndGlyphs">mash chemistry.</text>
<text class="n" xml:space="preserve" x="31.6" y="461.7" font-size="12.5" textLength="71.8" lengthAdjust="spacingAndGlyphs">2. The actual </text>
<text class="n" xml:space="preserve" x="103.4" y="461.7" font-size="12.5" textLength="53.0" lengthAdjust="spacingAndGlyphs">pH of the </text>
<text class="n" xml:space="preserve" x="156.4" y="461.7" font-size="12.5" textLength="46.6" lengthAdjust="spacingAndGlyphs">mash at </text>
<text class="n" xml:space="preserve" x="203.0" y="461.7" font-size="12.5" textLength="107.5" lengthAdjust="spacingAndGlyphs">mash temperature </text>
<text class="n" xml:space="preserve" x="310.5" y="461.7" font-size="12.5" textLength="49.5" lengthAdjust="spacingAndGlyphs">(~150°F) </text>
<text class="n" xml:space="preserve" x="360.0" y="461.7" font-size="12.5" textLength="60.5" lengthAdjust="spacingAndGlyphs">is typically </text>
<text class="n" xml:space="preserve" x="420.5" y="461.7" font-size="12.5" textLength="42.4" lengthAdjust="spacingAndGlyphs">.35 pH </text>
<text class="n" xml:space="preserve" x="462.9" y="461.7" font-size="12.5" textLength="57.7" lengthAdjust="spacingAndGlyphs">less than it </text>
<text class="n" xml:space="preserve" x="520.6" y="461.7" font-size="12.5" textLength="55.3" lengthAdjust="spacingAndGlyphs">measures </text>
<text class="n" xml:space="preserve" x="575.9" y="461.7" font-size="12.5" textLength="46.8" lengthAdjust="spacingAndGlyphs">at room </text>
<text class="n" xml:space="preserve" x="622.7" y="461.7" font-size="12.5" textLength="71.8" lengthAdjust="spacingAndGlyphs">temperature.</text>
<text class="n" xml:space="preserve" x="31.6" y="476.6" font-size="12.5" textLength="59.9" lengthAdjust="spacingAndGlyphs">3. For best </text>
<text class="n" xml:space="preserve" x="91.5" y="476.6" font-size="12.5" textLength="63.0" lengthAdjust="spacingAndGlyphs">results, the </text>
<text class="n" xml:space="preserve" x="154.5" y="476.6" font-size="12.5" textLength="54.0" lengthAdjust="spacingAndGlyphs">mash pH </text>
<text class="n" xml:space="preserve" x="208.5" y="476.6" font-size="12.5" textLength="78.9" lengthAdjust="spacingAndGlyphs">should always </text>
<text class="n" xml:space="preserve" x="287.4" y="476.6" font-size="12.5" textLength="68.2" lengthAdjust="spacingAndGlyphs">be between </text>
<text class="n" xml:space="preserve" x="355.6" y="476.6" font-size="12.5" textLength="43.2" lengthAdjust="spacingAndGlyphs">5.2-5.6, </text>
<text class="n" xml:space="preserve" x="398.8" y="476.6" font-size="12.5" textLength="73.1" lengthAdjust="spacingAndGlyphs">regardless of </text>
<text class="n" xml:space="preserve" x="471.9" y="476.6" font-size="12.5" textLength="57.5" lengthAdjust="spacingAndGlyphs">beer style, </text>
<text class="n" xml:space="preserve" x="529.4" y="476.6" font-size="12.5" textLength="38.0" lengthAdjust="spacingAndGlyphs">when </text>
<text class="n" xml:space="preserve" x="567.4" y="476.6" font-size="12.5" textLength="70.7" lengthAdjust="spacingAndGlyphs">measured at </text>
<text class="n" xml:space="preserve" x="638.1" y="476.6" font-size="12.5" textLength="33.3" lengthAdjust="spacingAndGlyphs">mash </text>
<text class="n" xml:space="preserve" x="671.4" y="476.6" font-size="12.5" textLength="71.1" lengthAdjust="spacingAndGlyphs">temperature.</text>
</svg>
</body></html>
